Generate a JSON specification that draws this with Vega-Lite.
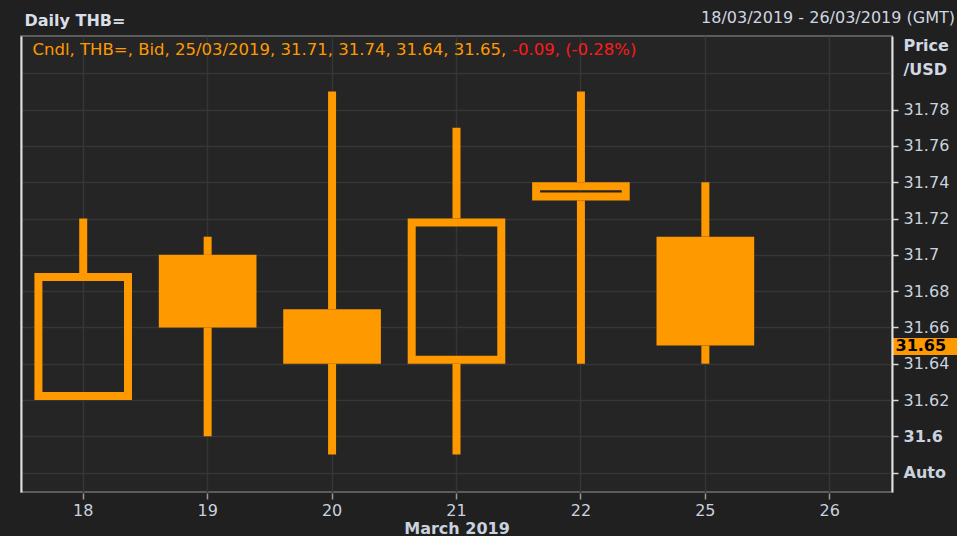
{
  "$schema": "https://vega.github.io/schema/vega-lite/v6.json",
  "width": 871,
  "height": 456,
  "autosize": {"type": "none"},
  "padding": {"left": 21, "top": 36, "right": 65, "bottom": 44},
  "background": "#202020",
  "title": {
    "text": "18/03/2019 - 26/03/2019 (GMT)",
    "anchor": "end",
    "frame": "group",
    "dx": 63,
    "dy": 24,
    "offset": 10,
    "color": "#d0d6e0",
    "fontSize": 16,
    "fontWeight": "normal",
    "font": "DejaVu Sans"
  },
  "config": {
    "font": "DejaVu Sans",
    "view": {"fill": "#252525", "stroke": "#5c5c5c", "strokeWidth": 2}
  },
  "data": {
    "values": [
      {"day": "18", "open": 31.62, "high": 31.72, "low": 31.62, "close": 31.69},
      {"day": "19", "open": 31.70, "high": 31.71, "low": 31.60, "close": 31.66},
      {"day": "20", "open": 31.67, "high": 31.79, "low": 31.59, "close": 31.64},
      {"day": "21", "open": 31.64, "high": 31.77, "low": 31.59, "close": 31.72},
      {"day": "22", "open": 31.73, "high": 31.79, "low": 31.64, "close": 31.74},
      {"day": "25", "open": 31.71, "high": 31.74, "low": 31.64, "close": 31.65}
    ]
  },
  "resolve": {"axis": {"x": "independent", "y": "independent"}},
  "layer": [
    {
      "transform": [
        {"fold": ["open", "close"], "as": ["k", "v"]},
        {"aggregate": [
          {"op": "max", "field": "v", "as": "top"},
          {"op": "min", "field": "v", "as": "bot"},
          {"op": "max", "field": "high", "as": "high"},
          {"op": "min", "field": "low", "as": "low"}
        ], "groupby": ["day"]}
      ],
      "layer": [
        {
          "mark": {"type": "rule", "color": "#ff9900", "strokeWidth": 8, "strokeCap": "butt"},
          "encoding": {
            "x": {"field": "day", "type": "ordinal", "axis": null},
            "y": {"field": "high", "type": "quantitative", "axis": null},
            "y2": {"field": "top"}
          }
        },
        {
          "mark": {"type": "rule", "color": "#ff9900", "strokeWidth": 8, "strokeCap": "butt"},
          "encoding": {
            "x": {"field": "day", "type": "ordinal", "axis": null},
            "y": {"field": "bot", "type": "quantitative", "axis": null},
            "y2": {"field": "low"}
          }
        }
      ]
    },
    {
      "transform": [{"filter": "datum.close < datum.open"}],
      "mark": {"type": "bar", "color": "#ff9900", "width": {"band": 0.785}},
      "encoding": {
        "x": {
          "field": "day", "type": "ordinal",
          "scale": {"domain": ["18", "19", "20", "21", "22", "25", "26"], "paddingInner": 0, "paddingOuter": 0},
          "axis": {
            "orient": "bottom",
            "title": "March 2019",
            "titleColor": "#c9d2de",
            "titleFontSize": 16,
            "titleFontWeight": "bold",
            "titlePadding": 2,
            "labelAngle": 0,
            "labelColor": "#c9d2de",
            "labelFontSize": 16,
            "labelPadding": 3,
            "domain": false,
            "ticks": true,
            "tickColor": "#9a9a9a",
            "tickSize": 6,
            "tickWidth": 1.5,
            "offset": 1,
            "grid": true,
            "gridColor": "#363636",
            "gridWidth": 1.5
          }
        },
        "y": {
          "field": "open", "type": "quantitative",
          "scale": {"domain": [31.5693, 31.8206], "nice": false, "zero": false},
          "axis": {
            "orient": "right",
            "values": [31.58, 31.6, 31.62, 31.64, 31.66, 31.68, 31.7, 31.72, 31.74, 31.76, 31.78, 31.8, 31.65],
            "labelExpr": "datum.value == 31.58 ? 'Auto' : (datum.value == 31.8 ? '' : format(datum.value, '~g'))",
            "labelColor": {"condition": {"test": "datum.value == 31.65", "value": "#000000"}, "value": "#c9d2de"},
            "labelFontWeight": {"condition": {"test": "datum.value == 31.6 || datum.value == 31.65 || datum.value == 31.58", "value": "bold"}, "value": "normal"},
            "labelFontSize": 16,
            "labelBaseline": "middle",
            "labelPadding": {"condition": {"test": "datum.value == 31.65", "value": -62}, "value": 5},
            "labelOverlap": false,
            "labelFlush": false,
            "labelBound": false,
            "domain": true,
            "domainColor": "#e2e2e2",
            "domainWidth": 2,
            "ticks": true,
            "tickColor": {"condition": {"test": "datum.value == 31.65", "value": "#ff9900"}, "value": "#d6d6d6"},
            "tickSize": {"condition": {"test": "datum.value == 31.65", "value": 65}, "value": 6},
            "tickWidth": {"condition": {"test": "datum.value == 31.65", "value": 17}, "value": 1.5},
            "tickOpacity": {"condition": {"test": "datum.value == 31.8", "value": 0}, "value": 1},
            "grid": true,
            "gridColor": "#363636",
            "gridWidth": 1.5,
            "gridOpacity": {"condition": {"test": "datum.value == 31.65", "value": 0}, "value": 1},
            "title": ["Price", "/USD"],
            "titleAngle": 0,
            "titleAlign": "left",
            "titleBaseline": "top",
            "titleX": 11,
            "titleY": 1,
            "titleLineHeight": 24,
            "titleColor": "#d0d8e4",
            "titleFontSize": 16,
            "titleFontWeight": "bold"
          }
        },
        "y2": {"field": "close"}
      }
    },
    {
      "transform": [{"filter": "datum.close > datum.open"}],
      "mark": {"type": "bar", "fill": "transparent", "stroke": "#ff9900", "strokeWidth": 8, "width": {"band": 0.72}, "yOffset": 4, "y2Offset": -4},
      "encoding": {
        "x": {
          "field": "day", "type": "ordinal",
          "axis": {
            "orient": "top",
            "values": ["21"],
            "labelExpr": "'-0.09, (-0.28%)'",
            "labelColor": "#ff1a1a",
            "labelFontSize": 16.5,
            "labelAngle": 0,
            "labelAlign": "left",
            "labelBaseline": "middle",
            "labelOffset": 55.5,
            "labelPadding": -13,
            "labelLimit": 0,
            "labelOverlap": false,
            "labelFlush": false,
            "labelBound": false,
            "ticks": false,
            "tickSize": 0,
            "domain": false,
            "grid": false,
            "title": "Cndl, THB=, Bid, 25/03/2019, 31.71, 31.74, 31.64, 31.65,",
            "titleColor": "#ff9900",
            "titleFontSize": 16.5,
            "titleFontWeight": "normal",
            "titleAlign": "left",
            "titleBaseline": "middle",
            "titleX": 11,
            "titleY": 13
          }
        },
        "y": {
          "field": "close", "type": "quantitative",
          "axis": {
            "orient": "left",
            "labels": false,
            "ticks": false,
            "grid": false,
            "domain": true,
            "domainColor": "#e2e2e2",
            "domainWidth": 2,
            "title": "Daily THB=",
            "titleAngle": 0,
            "titleAlign": "left",
            "titleBaseline": "middle",
            "titleX": 3,
            "titleY": -16,
            "titleColor": "#d9dee6",
            "titleFontSize": 16,
            "titleFontWeight": "bold"
          }
        },
        "y2": {"field": "open"}
      }
    }
  ]
}
